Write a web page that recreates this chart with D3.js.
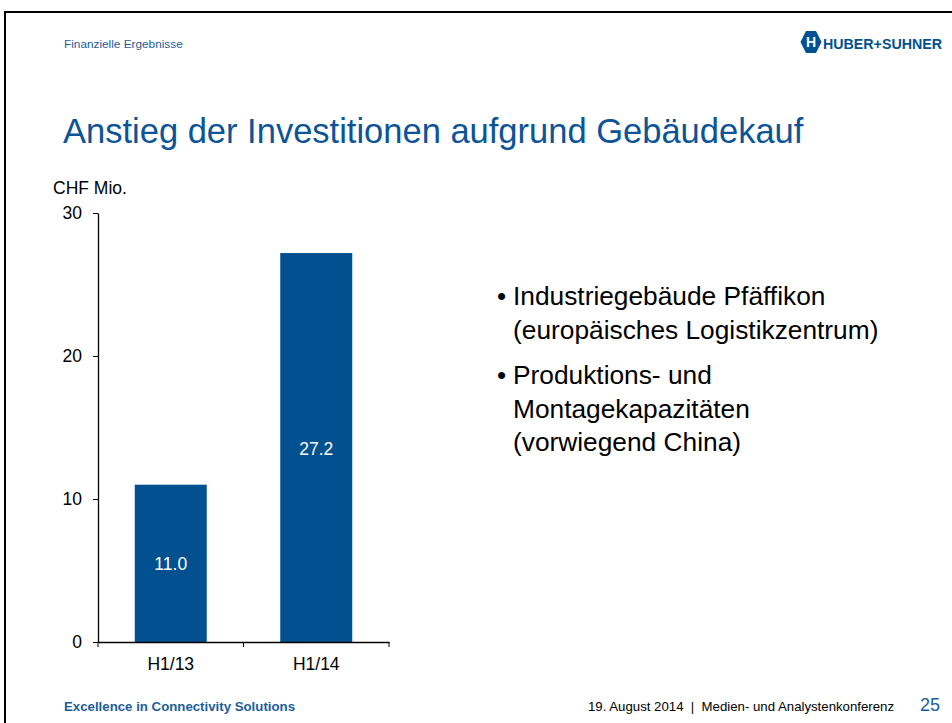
<!DOCTYPE html>
<meta charset="utf-8">
<style>
    body { margin: 0; background: #fff; }
    text { font-family: "Liberation Sans", Arial, sans-serif; }
</style>
<svg width="952" height="723"></svg>
<script src="https://d3js.org/d3.v7.min.js"></script>
<script>
    // data
    const categories = ["H1/13", "H1/14"];
    const values = [11.0, 27.2];
    const yTicks = [0, 10, 20, 30];
    const bullets = [
        ["Industriegebäude Pfäffikon", "(europäisches Logistikzentrum)"],
        ["Produktions- und", "Montagekapazitäten", "(vorwiegend China)"]
    ];

    const blue = "#02508f";
    let svg = d3.select("svg");

    // slide frame
    svg.append("path")
        .attr("d", "M5,723 V12 H952")
        .attr("fill", "none")
        .attr("stroke", "#000")
        .attr("stroke-width", 2);

    // header
    svg.append("text").attr("x", 64).attr("y", 48)
        .attr("font-size", 11.8).attr("fill", "#1d5d9b")
        .text("Finanzielle Ergebnisse");

    // logo (rough)
    let logo = svg.append("g").attr("transform", "translate(811,42)");
    logo.append("path")
        .attr("d", "M-5,-11 L5,-11 L10.5,0 L5,11 L-5,11 L-10.5,0 Z")
        .attr("fill", blue);
    logo.append("text").attr("x", 0).attr("y", 5).attr("text-anchor", "middle")
        .attr("font-size", 14).attr("font-weight", "bold").attr("fill", "#fff")
        .text("H");
    logo.append("text").attr("x", 12).attr("y", 7)
        .attr("font-size", 15).attr("font-weight", "bold").attr("fill", blue)
        .attr("textLength", 119).attr("lengthAdjust", "spacingAndGlyphs")
        .text("HUBER+SUHNER");

    // title
    svg.append("text").attr("x", 63).attr("y", 143)
        .attr("font-size", 34.5).attr("fill", "#0c5497")
        .text("Anstieg der Investitionen aufgrund Gebäudekauf");

    // chart
    let x = d3.scaleBand().domain(categories).range([98, 389]).paddingInner(0).paddingOuter(0);
    let y = d3.scaleLinear().domain([0, 30]).range([642, 213]);
    let barW = 72;

    svg.append("text").attr("x", 53).attr("y", 194)
        .attr("font-size", 17.5).attr("fill", "#000").text("CHF Mio.");

    svg.append("g").selectAll("rect")
        .data(values).enter().append("rect")
        .attr("x", (d, i) => x(categories[i]) + (x.bandwidth() - barW) / 2)
        .attr("width", barW)
        .attr("y", d => y(d))
        .attr("height", d => y(0) - y(d))
        .attr("fill", blue);

    svg.append("g").selectAll("text")
        .data(values).enter().append("text")
        .attr("x", (d, i) => x(categories[i]) + x.bandwidth() / 2)
        .attr("y", d => (y(d) + y(0)) / 2 + 7)
        .attr("text-anchor", "middle")
        .attr("font-size", 17.5).attr("fill", "#fff")
        .text(d => d.toFixed(1));

    let yAxis = svg.append("g").attr("transform", "translate(98,0)")
        .call(d3.axisLeft(y).tickValues(yTicks).tickSize(5).tickPadding(11).tickSizeOuter(0));
    let xAxis = svg.append("g").attr("transform", "translate(0,642)")
        .call(d3.axisBottom(x).tickSize(0).tickPadding(16).tickSizeOuter(0));
    // ticks between categories on the x axis
    xAxis.selectAll(".sep").data([98, 243.5, 389]).enter().append("line")
        .attr("class", "sep")
        .attr("x1", d => d).attr("x2", d => d)
        .attr("y1", 0).attr("y2", 5)
        .attr("stroke", "#000");

    [yAxis, xAxis].forEach(a => {
        a.select(".domain").attr("stroke", "#000").attr("stroke-width", 1.3);
        a.selectAll("text").attr("font-size", 17.5).attr("fill", "#000")
            .attr("font-family", "Liberation Sans, Arial, sans-serif");
        a.selectAll(".tick line").attr("stroke", "#000");
    });

    // bullets
    let by = 305;
    bullets.forEach((lines, bi) => {
        svg.append("text").attr("x", 497).attr("y", by)
            .attr("font-size", 26).attr("fill", "#000").text("•");
        lines.forEach((l, li) => {
            svg.append("text").attr("x", 513).attr("y", by + li * 33.5)
                .attr("font-size", 26.3).attr("fill", "#000").text(l);
        });
        by += lines.length * 33.5 + 12;
    });

    // footer
    svg.append("text").attr("x", 64).attr("y", 711)
        .attr("font-size", 12.5).attr("font-weight", "bold").attr("fill", "#1d5d9b")
        .attr("textLength", 231).attr("lengthAdjust", "spacingAndGlyphs")
        .text("Excellence in Connectivity Solutions");
    svg.append("text").attr("x", 588).attr("y", 711)
        .attr("font-size", 13).attr("fill", "#000")
        .attr("textLength", 306).attr("lengthAdjust", "spacingAndGlyphs")
        .text("19. August 2014\u00a0\u00a0|\u00a0\u00a0Medien- und Analystenkonferenz");
    svg.append("text").attr("x", 920).attr("y", 711)
        .attr("font-size", 18).attr("fill", "#1d5d9b").text("25");
</script>
<body>
</body>
